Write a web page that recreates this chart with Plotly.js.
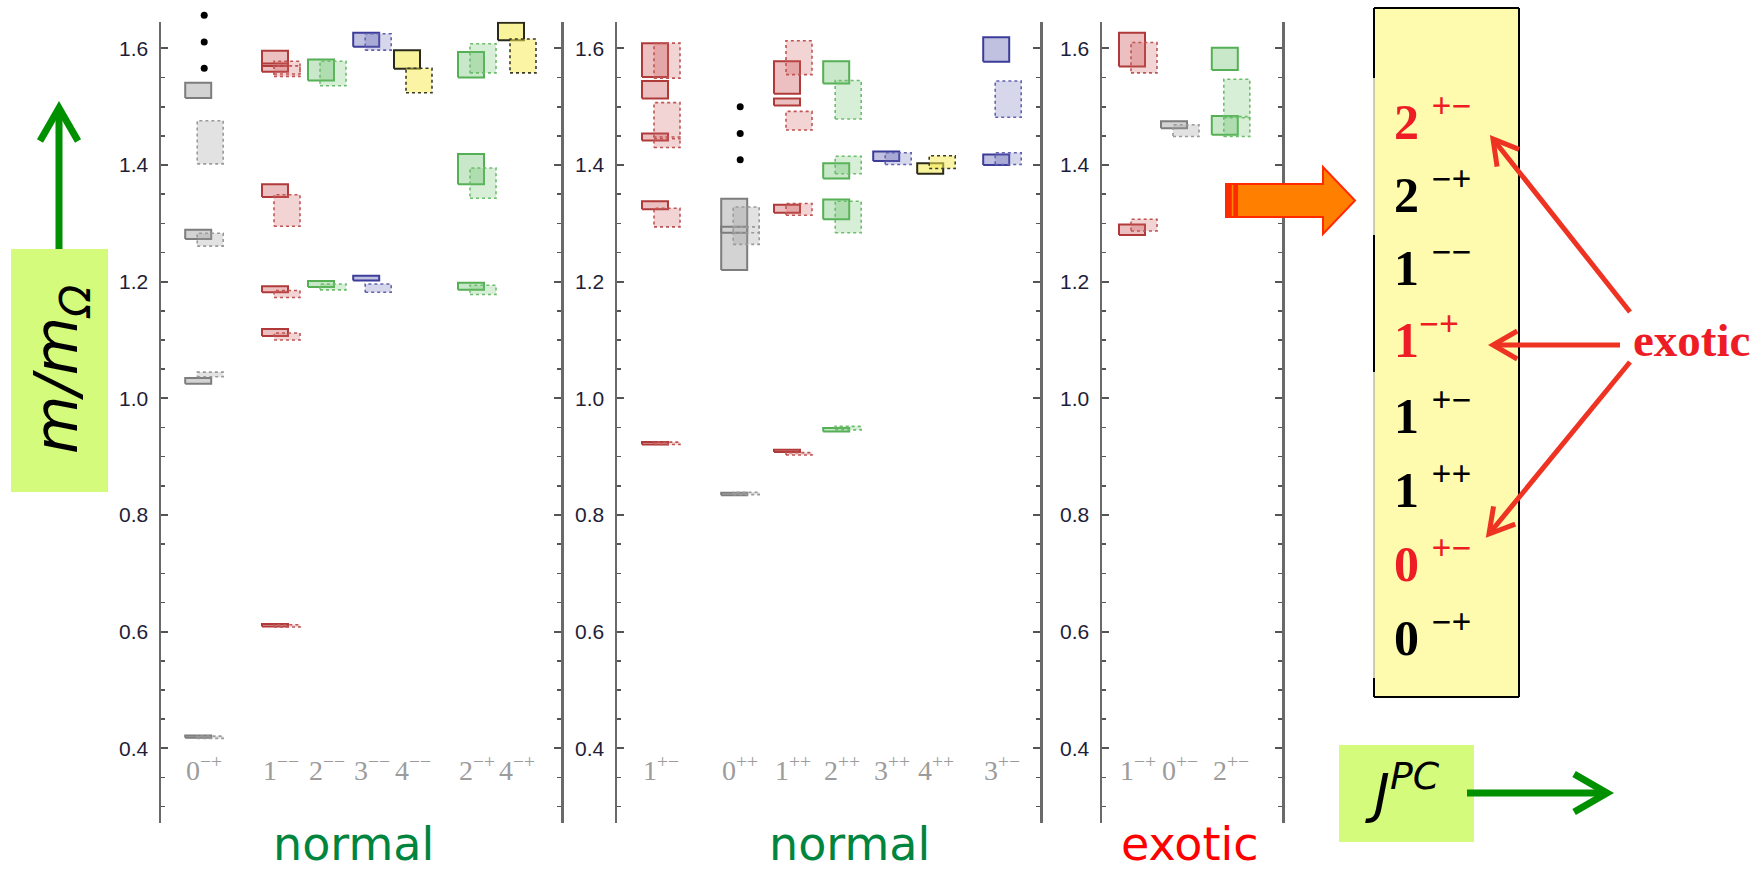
<!DOCTYPE html>
<html><head><meta charset="utf-8">
<script src="https://cdn.plot.ly/plotly-3.0.1.min.js"></script>
<style>html,body{margin:0;padding:0;background:#fff}#chart{width:1764px;height:874px}</style>
</head><body><div id="chart"></div>
<script>
// ---------------- DATA ----------------
// Panel 1 (normal): J^PC categories
const p1Labels = ['0<sup>−+</sup>','1<sup>−−</sup>','2<sup>−−</sup>','3<sup>−−</sup>','4<sup>−−</sup>','2<sup>−+</sup>','4<sup>−+</sup>'];
const p1J      = [0,1,2,3,4,2,4];
const p1Col       = [0,0,0,0,      1,1,1,1,1,1,                 2,2,          3,3,          4,      5,5,5,              6];
const p1Fine      = [1.528,1.281,1.030,0.420, 1.583,1.567,1.356,1.187,1.113,0.611, 1.563,1.196, 1.615,1.206, 1.581, 1.572,1.393,1.192, 1.629];
const p1FineErr   = [0.013,0.008,0.005,0.002, 0.013,0.007,0.011,0.005,0.006,0.002, 0.018,0.005, 0.012,0.004, 0.016, 0.022,0.026,0.006, 0.015];
const p1Coarse    = [1.439,1.272,1.041,0.419, 1.565,1.563,1.322,1.179,1.106,0.610, 1.557,1.191, 1.611,1.189, 1.545, 1.583,1.369,1.186, 1.587];
const p1CoarseErr = [0.037,0.011,0.004,0.002, 0.013,0.007,0.027,0.006,0.006,0.002, 0.021,0.005, 0.014,0.007, 0.021, 0.025,0.026,0.008, 0.029];
const p1DotsCol = [0,0,0];
const p1Dots    = [1.657,1.611,1.566];

// Panel 2 (normal)
const p2Labels = ['1<sup>+−</sup>','0<sup>++</sup>','1<sup>++</sup>','2<sup>++</sup>','3<sup>++</sup>','4<sup>++</sup>','3<sup>+−</sup>'];
const p2J      = [1,0,1,2,3,4,3];
const p2Col       = [0,0,0,0,0,         1,1,1,          2,2,2,2,              3,3,3,3,               4,     5,      6,6];
const p2Fine      = [1.580,1.529,1.448,1.331,0.923, 1.281,1.289,0.836, 1.550,1.508,1.325,0.910, 1.559,1.390,1.324,0.946, 1.415, 1.394, 1.598,1.409];
const p2FineErr   = [0.029,0.015,0.006,0.007,0.002, 0.061,0.005,0.002, 0.028,0.006,0.007,0.002, 0.019,0.013,0.017,0.003, 0.008, 0.009, 0.021,0.009];
const p2Coarse    = [1.579,1.476,1.439,1.310,0.923, 1.296,1.289,0.837, 1.584,1.476,1.324,0.905, 1.512,1.400,1.311,0.949, 1.411, 1.405, 1.513,1.411];
const p2CoarseErr = [0.030,0.031,0.009,0.016,0.002, 0.032,0.005,0.002, 0.029,0.016,0.010,0.002, 0.033,0.015,0.027,0.003, 0.010, 0.011, 0.031,0.010];
const p2DotsCol = [1,1,1];
const p2Dots    = [1.500,1.454,1.409];

// Panel 3 (exotic)
const p3Labels = ['1<sup>−+</sup>','0<sup>+−</sup>','2<sup>+−</sup>'];
const p3J      = [1,0,2];
const p3Col       = [0,0,       1,      2,2];
const p3Fine      = [1.598,1.289, 1.469, 1.582,1.468];
const p3FineErr   = [0.029,0.009, 0.006, 0.019,0.016];
const p3Coarse    = [1.584,1.297, 1.459, 1.514,1.466];
const p3CoarseErr = [0.026,0.010, 0.010, 0.033,0.017];

// Legend box (J^PC list)
const jpcList   = ['2 <sup>+−</sup>','2 <sup>−+</sup>','1 <sup>−−</sup>','1<sup>−+</sup>','1 <sup>+−</sup>','1 <sup>++</sup>','0 <sup>+−</sup>','0 <sup>−+</sup>'];
const jpcExotic = [true,false,false,true,false,false,true,false];

// ---------------- LAYOUT / STYLE ----------------
const W = 1764, H = 874;
const PX = v => v / W, PY = v => 1 - v / H;
const colPos = [
  [1.08, 3.0, 4.15, 5.28, 6.3, 7.9, 8.9],
  [1.1, 3.08, 4.4, 5.63, 6.88, 7.98, 9.63],
  [0.9, 1.95, 3.22]
];
const BOXW = 0.65, OFF = 0.15;
const jStyle = {
  0: {line: '#7d7d7d', fill: 'rgba(150,150,150,0.42)', dline: '#9a9a9a', dfill: 'rgba(160,160,160,0.30)'},
  1: {line: '#b03a3a', fill: 'rgba(205,90,90,0.38)', dline: '#c05555', dfill: 'rgba(210,100,100,0.28)'},
  2: {line: '#55b055', fill: 'rgba(100,190,100,0.35)', dline: '#6cbd6c', dfill: 'rgba(110,195,110,0.28)'},
  3: {line: '#3c3c9a', fill: 'rgba(90,90,175,0.38)', dline: '#6262b0', dfill: 'rgba(110,110,185,0.28)'},
  4: {line: '#2a2a1a', fill: 'rgba(245,235,90,0.60)', dline: '#3a3a2a', dfill: 'rgba(245,235,90,0.55)'}
};

const panels = [
  {labels: p1Labels, J: p1J, col: p1Col, fine: p1Fine, fe: p1FineErr, coarse: p1Coarse, ce: p1CoarseErr, dc: p1DotsCol, d: p1Dots},
  {labels: p2Labels, J: p2J, col: p2Col, fine: p2Fine, fe: p2FineErr, coarse: p2Coarse, ce: p2CoarseErr, dc: p2DotsCol, d: p2Dots},
  {labels: p3Labels, J: p3J, col: p3Col, fine: p3Fine, fe: p3FineErr, coarse: p3Coarse, ce: p3CoarseErr, dc: [], d: []}
];

// y scale: 0.272 at px 823, 583.3 px per unit
const Y0 = 0.272, YPX_BOT = 823, YPX_TOP = 21.7, YPX_TOP_EXT = 4, PPU = 583.3;

const traces = [];
const annotations = [];
panels.forEach((p, pi) => {
  const xa = pi === 0 ? 'x' : 'x' + (pi + 1);
  const ya = pi === 0 ? 'y' : 'y' + (pi + 1);
  [0,1,2,3,4].forEach(j => {
    ['fine','coarse'].forEach(kind => {
      const xs = [], ys = [];
      p.col.forEach((c, i) => {
        if (p.J[c] !== j) return;
        const xc = colPos[pi][c] + (kind === 'fine' ? -OFF : OFF);
        const m = kind === 'fine' ? p.fine[i] : p.coarse[i];
        const e = kind === 'fine' ? p.fe[i] : p.ce[i];
        const x0 = xc - BOXW/2, x1 = xc + BOXW/2;
        xs.push(x0, x1, x1, x0, x0, null);
        ys.push(m - e, m - e, m + e, m + e, m - e, null);
      });
      if (!xs.length) return;
      const st = jStyle[j];
      traces.push({
        type: 'scatter', mode: 'lines', x: xs, y: ys, xaxis: xa, yaxis: ya,
        fill: 'toself', connectgaps: false,
        fillcolor: kind === 'fine' ? st.fill : st.dfill,
        line: {color: kind === 'fine' ? st.line : st.dline, width: kind === 'fine' ? 2 : 1.6, dash: kind === 'fine' ? 'solid' : 'dot'},
        hoverinfo: 'skip', showlegend: false
      });
    });
  });
  if (p.d.length) {
    // dots drawn on an invisible, taller copy of the same y scale so the top one is not cut
    traces.push({type: 'scatter', mode: 'markers', x: p.dc.map(c => colPos[pi][c]), y: p.d, xaxis: xa, yaxis: 'y4',
      marker: {color: '#000', size: 7}, hoverinfo: 'skip', showlegend: false});
  }
  p.labels.forEach((lab, c) => {
    annotations.push({xref: xa, yref: ya, x: colPos[pi][c], y: 0.366, text: lab, showarrow: false,
      font: {family: 'Liberation Serif, DejaVu Serif, serif', size: 28, color: '#9c9c9c'}, xanchor: 'center', yanchor: 'middle'});
  });
});

const yDom = [PY(YPX_BOT), PY(YPX_TOP)];
const yax = {
  range: [Y0, Y0 + (YPX_BOT - YPX_TOP) / PPU], domain: yDom, showgrid: false, zeroline: false,
  showline: true, linecolor: '#6a6a6a', linewidth: 2.5, mirror: 'ticks',
  ticks: 'inside', ticklen: 7, tickwidth: 2, tickcolor: '#555',
  tick0: 0.4, dtick: 0.2, tickformat: '.1f', ticklabelstandoff: 6,
  tickfont: {family: 'Liberation Sans, Arial, sans-serif', size: 21, color: '#1e1e38'},
  minor: {ticks: 'inside', ticklen: 4, tickwidth: 1.6, tickcolor: '#555', dtick: 0.05, tick0: 0.4, showgrid: false}
};
const xax = {showgrid: false, zeroline: false, showline: false, showticklabels: false, ticks: '', fixedrange: true};

// paper pixel helpers for the decorative overlay
const shapes = [];
function rectPx(x0, y0, x1, y1, fill, line) {
  shapes.push({type: 'rect', xref: 'paper', yref: 'paper', x0: PX(x0), x1: PX(x1), y0: PY(y0), y1: PY(y1),
    fillcolor: fill, line: line || {width: 0}, layer: 'below'});
}
function linePx(x0, y0, x1, y1, color, width) {
  shapes.push({type: 'line', xref: 'paper', yref: 'paper', x0: PX(x0), x1: PX(x1), y0: PY(y0), y1: PY(y1),
    line: {color: color, width: width}});
}
function pathPx(pts, color, width, close, fill) {
  const s = pts.map((p, i) => (i ? 'L' : 'M') + PX(p[0]).toFixed(5) + ',' + PY(p[1]).toFixed(5)).join(' ') + (close ? ' Z' : '');
  const o = {type: 'path', xref: 'paper', yref: 'paper', path: s, line: {color: color, width: width}};
  if (fill) o.fillcolor = fill;
  shapes.push(o);
}
function arrowPx(x0, y0, x1, y1, color, width, headLen) {
  linePx(x0, y0, x1, y1, color, width);
  const a = Math.atan2(y0 - y1, x0 - x1), d = Math.PI / 6;
  pathPx([[x1 + headLen*Math.cos(a+d), y1 + headLen*Math.sin(a+d)], [x1, y1],
          [x1 + headLen*Math.cos(a-d), y1 + headLen*Math.sin(a-d)]], color, width);
}

// y label box + up arrow
rectPx(11, 249, 108, 492, '#d4fb7c');
arrowPx(59, 249, 59, 108, '#009000', 7, 38);
// J^PC box + right arrow
rectPx(1339, 745, 1474, 842, '#d4fb7c');
arrowPx(1467, 793, 1607, 793, '#009000', 7, 38);
// yellow list box
rectPx(1374, 8, 1519, 697, '#fffbae');
linePx(1374, 8, 1519, 8, '#000', 2);
linePx(1519, 8, 1519, 697, '#000', 2);
linePx(1374, 697, 1519, 697, '#000', 2);
linePx(1374, 8, 1374, 697, '#999', 1);
linePx(1374, 8, 1374, 78, '#000', 2);
linePx(1374, 235, 1374, 372, '#000', 2);
linePx(1374, 678, 1374, 697, '#000', 2);
// orange block arrow
pathPx([[1226,184],[1323,184],[1323,167],[1355,200.5],[1323,234],[1323,217],[1226,217]], '#ff2a00', 2, true, '#ff7f00');
rectPx(1226, 184, 1238, 217, '#ff2a00');
shapes[shapes.length-1].layer = 'above';
linePx(1232.5, 185, 1232.5, 216, '#ff8c00', 1.5);
// red arrows from "exotic"
arrowPx(1630, 312, 1493, 139, '#ee3322', 5, 28);
arrowPx(1620, 345, 1493, 345, '#ee3322', 5, 28);
arrowPx(1630, 362, 1489, 534, '#ee3322', 5, 28);

// overlay texts
annotations.push({xref: 'paper', yref: 'paper', x: PX(60), y: PY(370), text: '<i>m/m<sub>Ω</sub></i>', textangle: -90,
  showarrow: false, font: {family: 'DejaVu Sans, Verdana, sans-serif', size: 60, color: '#000'}, xanchor: 'center', yanchor: 'middle'});
annotations.push({xref: 'paper', yref: 'paper', x: PX(1402), y: PY(789), text: '<i>J<sup>PC</sup></i>',
  showarrow: false, font: {family: 'DejaVu Sans, Verdana, sans-serif', size: 54, color: '#000'}, xanchor: 'center', yanchor: 'middle'});
[['normal', 353, '#00853f'], ['normal', 849, '#00853f'], ['exotic', 1190, '#ff0000']].forEach(t => {
  annotations.push({xref: 'paper', yref: 'paper', x: PX(t[1]), y: PY(873), text: t[0], showarrow: false,
    font: {family: 'DejaVu Sans, Verdana, sans-serif', size: 46, color: t[2]}, xanchor: 'center', yanchor: 'bottom'});
});
const rowY = [125, 197, 270, 343, 418, 492, 566, 640];
jpcList.forEach((t, i) => {
  annotations.push({xref: 'paper', yref: 'paper', x: PX(1392), y: PY(rowY[i] - 6), text: '<b>' + t + '</b>', showarrow: false,
    font: {family: 'Liberation Serif, Times New Roman, serif', size: 50, color: jpcExotic[i] ? '#ee1c24' : '#000'},
    xanchor: 'left', yanchor: 'middle'});
});
annotations.push({xref: 'paper', yref: 'paper', x: PX(1691), y: PY(340), text: '<b>exotic</b>', showarrow: false,
  font: {family: 'Liberation Serif, Times New Roman, serif', size: 47, color: '#ee1c24'}, xanchor: 'center', yanchor: 'middle'});

const layout = {
  width: W, height: H, margin: {l: 0, r: 0, t: 0, b: 0},
  paper_bgcolor: '#fff', plot_bgcolor: 'rgba(0,0,0,0)', showlegend: false,
  xaxis:  Object.assign({}, xax, {domain: [PX(161), PX(561)], range: [0, 10], anchor: 'y'}),
  xaxis2: Object.assign({}, xax, {domain: [PX(617), PX(1040)], range: [0, 10.575], anchor: 'y2'}),
  xaxis3: Object.assign({}, xax, {domain: [PX(1102), PX(1282)], range: [0, 4.5], anchor: 'y3'}),
  yaxis:  Object.assign({}, yax, {anchor: 'x'}),
  yaxis2: Object.assign({}, yax, {anchor: 'x2'}),
  yaxis3: Object.assign({}, yax, {anchor: 'x3'}),
  yaxis4: {anchor: 'free', position: 0, domain: [PY(YPX_BOT), PY(YPX_TOP_EXT)],
           range: [Y0, Y0 + (YPX_BOT - YPX_TOP_EXT) / PPU], visible: false, showgrid: false, zeroline: false},
  shapes: shapes, annotations: annotations
};
Plotly.newPlot('chart', traces, layout, {staticPlot: true, displayModeBar: false});
</script></body></html>
